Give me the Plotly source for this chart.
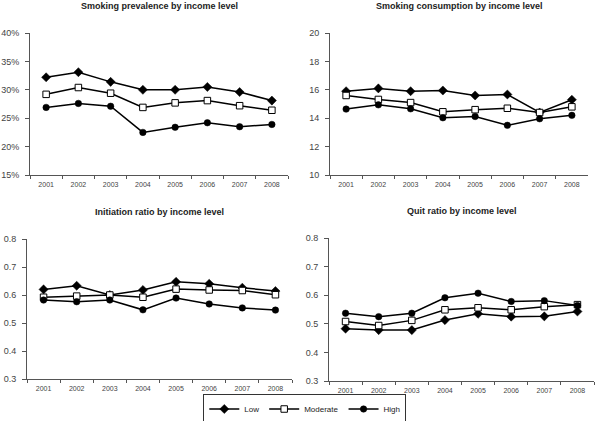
import plotly.graph_objects as go

years = ["2001", "2002", "2003", "2004", "2005", "2006", "2007", "2008"]

# Smoking prevalence (fraction)
prev_low = [0.322, 0.331, 0.314, 0.300, 0.300, 0.305, 0.296, 0.281]
prev_mod = [0.292, 0.304, 0.294, 0.269, 0.277, 0.281, 0.272, 0.264]
prev_high = [0.269, 0.276, 0.271, 0.225, 0.234, 0.242, 0.235, 0.239]

# Smoking consumption
cons_low = [15.9, 16.1, 15.9, 15.95, 15.6, 15.67, 14.4, 15.3]
cons_mod = [15.6, 15.32, 15.1, 14.45, 14.6, 14.7, 14.4, 14.8]
cons_high = [14.64, 14.94, 14.66, 14.03, 14.12, 13.5, 13.96, 14.2]

# Initiation ratio
init_low = [0.620, 0.633, 0.600, 0.618, 0.647, 0.640, 0.626, 0.614]
init_mod = [0.592, 0.596, 0.600, 0.592, 0.621, 0.618, 0.616, 0.601]
init_high = [0.582, 0.576, 0.582, 0.547, 0.589, 0.568, 0.554, 0.546]

# Quit ratio
quit_low = [0.483, 0.478, 0.478, 0.513, 0.535, 0.525, 0.526, 0.543]
quit_mod = [0.508, 0.494, 0.512, 0.549, 0.556, 0.549, 0.560, 0.567]
quit_high = [0.537, 0.525, 0.537, 0.591, 0.607, 0.578, 0.581, 0.564]

titles = ["Smoking prevalence by income level", "Smoking consumption by income level",
          "Initiation ratio by income level", "Quit ratio by income level"]
series_names = ["Low", "Moderate", "High"]

panels = [
    (prev_low, prev_mod, prev_high),
    (cons_low, cons_mod, cons_high),
    (init_low, init_mod, init_high),
    (quit_low, quit_mod, quit_high),
]

W, H = 600, 421
# pixel boxes: x0, x1, y0(top), y1(bottom)
boxes = [(30, 288, 33, 175), (330, 588, 33, 175), (27, 292, 239, 379), (329, 594, 238, 381)]
yranges = [[0.15, 0.40], [10, 20], [0.3, 0.8], [0.3, 0.8]]
ydticks = [0.05, 2, 0.1, 0.1]
yformats = [".0%", "d", ".1f", ".1f"]

markers = [
    dict(symbol="diamond", size=7, color="black", line=dict(color="black", width=0.5)),
    dict(symbol="square", size=6.5, color="white", line=dict(color="black", width=1)),
    dict(symbol="circle", size=6.5, color="black", line=dict(color="black", width=0.5)),
]

fig = go.Figure()
layout = {}
annotations = []
for i, (vals, box, yr, dt, fmt, title) in enumerate(zip(panels, boxes, yranges, ydticks, yformats, titles)):
    xa = "x" if i == 0 else f"x{i+1}"
    ya = "y" if i == 0 else f"y{i+1}"
    for s, (v, name, mk) in enumerate(zip(vals, series_names, markers)):
        fig.add_trace(go.Scatter(
            x=years, y=v, name=name, mode="lines+markers",
            line=dict(color="black", width=1.5), marker=mk,
            xaxis=xa, yaxis=ya, showlegend=(i == 0), hoverinfo="skip",
        ))
    x0, x1, y0, y1 = box
    kx = "xaxis" if i == 0 else f"xaxis{i+1}"
    ky = "yaxis" if i == 0 else f"yaxis{i+1}"
    layout[kx] = dict(
        domain=[x0 / W, x1 / W], anchor=ya, type="category",
        tickson="boundaries", ticks="outside", ticklen=3, tickcolor="#555",
        showline=True, linecolor="#555", linewidth=1, showgrid=False, zeroline=False,
        tickfont=dict(family="Arial", size=7, color="#444"), range=[-0.5, 7.5],
        automargin=False, ticklabelstandoff=3,
    )
    layout[ky] = dict(
        domain=[1 - y1 / H, 1 - y0 / H], anchor=xa, range=yr, dtick=dt, tick0=yr[0],
        tickformat=fmt, ticks="outside", ticklen=4, tickcolor="#555",
        showline=True, linecolor="#555", linewidth=1, showgrid=False, zeroline=False,
        tickfont=dict(family="Arial", size=9, color="#444"), automargin=False,
        ticklabelstandoff=4,
    )
    annotations.append(dict(
        text=f"<b>{title}</b>", x=(x0 + x1) / 2 / W, y=1 - (y0 - 27) / H,
        xref="paper", yref="paper", showarrow=False, xanchor="center", yanchor="middle",
        font=dict(family="Arial", size=9, color="#222"),
    ))

fig.update_layout(
    **layout,
    annotations=annotations,
    width=W, height=H,
    margin=dict(l=0, r=0, t=0, b=0, pad=0, autoexpand=False),
    paper_bgcolor="white", plot_bgcolor="white",
    legend=dict(
        orientation="h", x=0.508, y=1 - 409 / H, xanchor="center", yanchor="middle",
        bordercolor="#333", borderwidth=1, font=dict(family="Arial", size=8, color="#222"),
        itemwidth=30, tracegroupgap=0,
    ),
)

fig.write_html("out.html", config={"displayModeBar": False},
               post_script="document.body.style.margin='0';")
